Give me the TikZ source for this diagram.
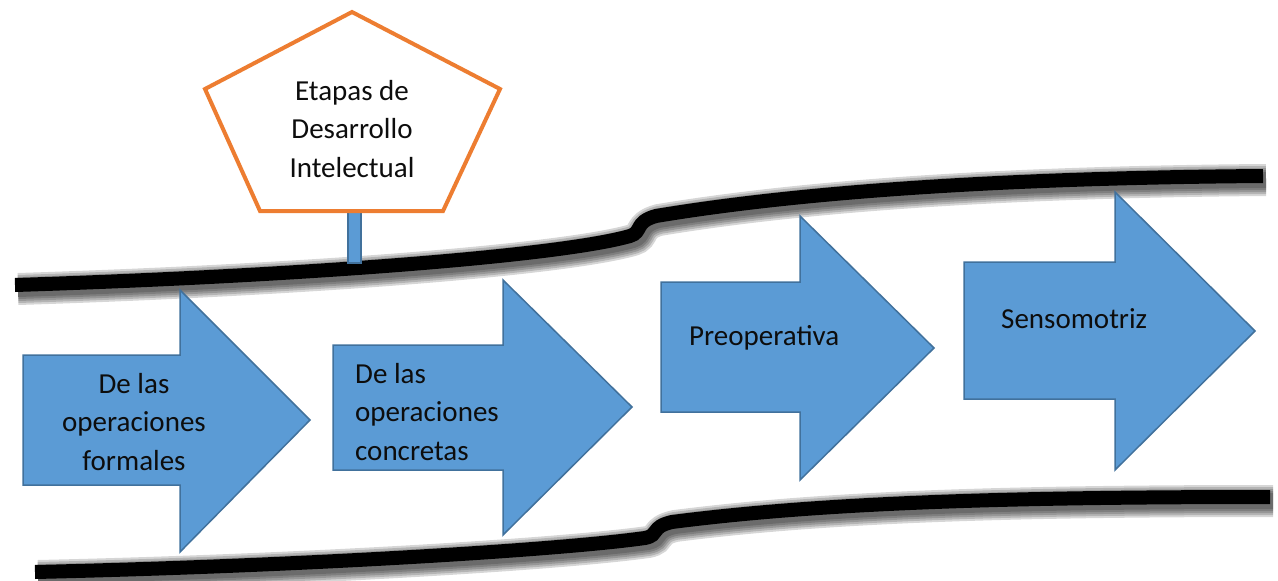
\documentclass[tikz,border=0pt]{standalone}
\usepackage{fontspec}
\setmainfont{Carlito}
\definecolor{blu}{HTML}{5B9BD5}
\definecolor{bluedge}{HTML}{41719C}
\definecolor{orng}{HTML}{ED7D31}
\definecolor{txtc}{HTML}{0D0D0D}
\newcommand\mytoppath{(15,285) .. controls (300,276) and (560,256) .. (630,236) .. controls (643,232) and (634,222) .. (656,216) .. controls (800,192) and (1000,178) .. (1263,176)}
\newcommand\mybotpath{(35,572) .. controls (300,566) and (560,550) .. (645,538) .. controls (660,535) and (650,527) .. (672,522) .. controls (820,503) and (1000,497) .. (1270,497)}
\begin{document}
\begin{tikzpicture}[x=1pt,y=-1pt,
  bluearrow/.style={fill=blu, draw=bluedge, line width=1.5pt, line join=miter},
  rail/.style={draw=black, line width=14pt, line cap=butt},
  railshadow/.style={draw=black, opacity=0.16, line cap=butt},
  txt/.style={anchor=base, inner sep=0pt, text=txtc, font=\fontsize{29}{38.5}\selectfont},
  signbox/.style={draw=orng, fill=white, line width=4pt, line join=miter}]
\useasboundingbox (0,0) rectangle (1278,581);

% shadows of the rails
\foreach \w in {32,28,24,20,16} {
  \draw[railshadow, line width=\w pt, shift={(3,4)}] \mytoppath;
  \draw[railshadow, line width=\w pt, shift={(3,4)}] \mybotpath;
}

% arrows
\draw[bluearrow] (23,355) -- (180,355) -- (180,290) -- (310,420) -- (180,552) -- (180,485) -- (23,485) -- cycle;
\draw[bluearrow] (333,345) -- (503,345) -- (503,280) -- (632,407) -- (503,535) -- (503,470) -- (333,470) -- cycle;
\draw[bluearrow] (661,282) -- (800,282) -- (800,216) -- (934,348) -- (800,480) -- (800,412) -- (661,412) -- cycle;
\draw[bluearrow] (964,262) -- (1115,262) -- (1115,192) -- (1255,331) -- (1115,470) -- (1115,399) -- (964,399) -- cycle;

% rails
\draw[rail] \mytoppath;
\draw[rail] \mybotpath;

% sign post and sign
\draw[fill=blu, draw=bluedge, line width=1.2pt] (348,211) rectangle (361,263);
\draw[signbox] (352,12) -- (500,89) -- (443,211) -- (260,211) -- (205,89) -- cycle;

% texts
\node[txt] (t0) at (352,100) {\begin{tabular}[t]{@{}c@{}}Etapas de\\Desarrollo\\Intelectual\end{tabular}};
\node[txt] (t1) at (134,393) {\begin{tabular}[t]{@{}c@{}}De las\\operaciones\\formales\end{tabular}};
\node[txt, anchor=base west] (t2) at (355,383) {\begin{tabular}[t]{@{}l@{}}De las\\operaciones\\concretas\end{tabular}};
\node[txt, anchor=base west] (t3) at (689,345) {Preoperativa};
\node[txt, anchor=base west] (t4) at (1001,328) {Sensomotriz};
\end{tikzpicture}
\end{document}
